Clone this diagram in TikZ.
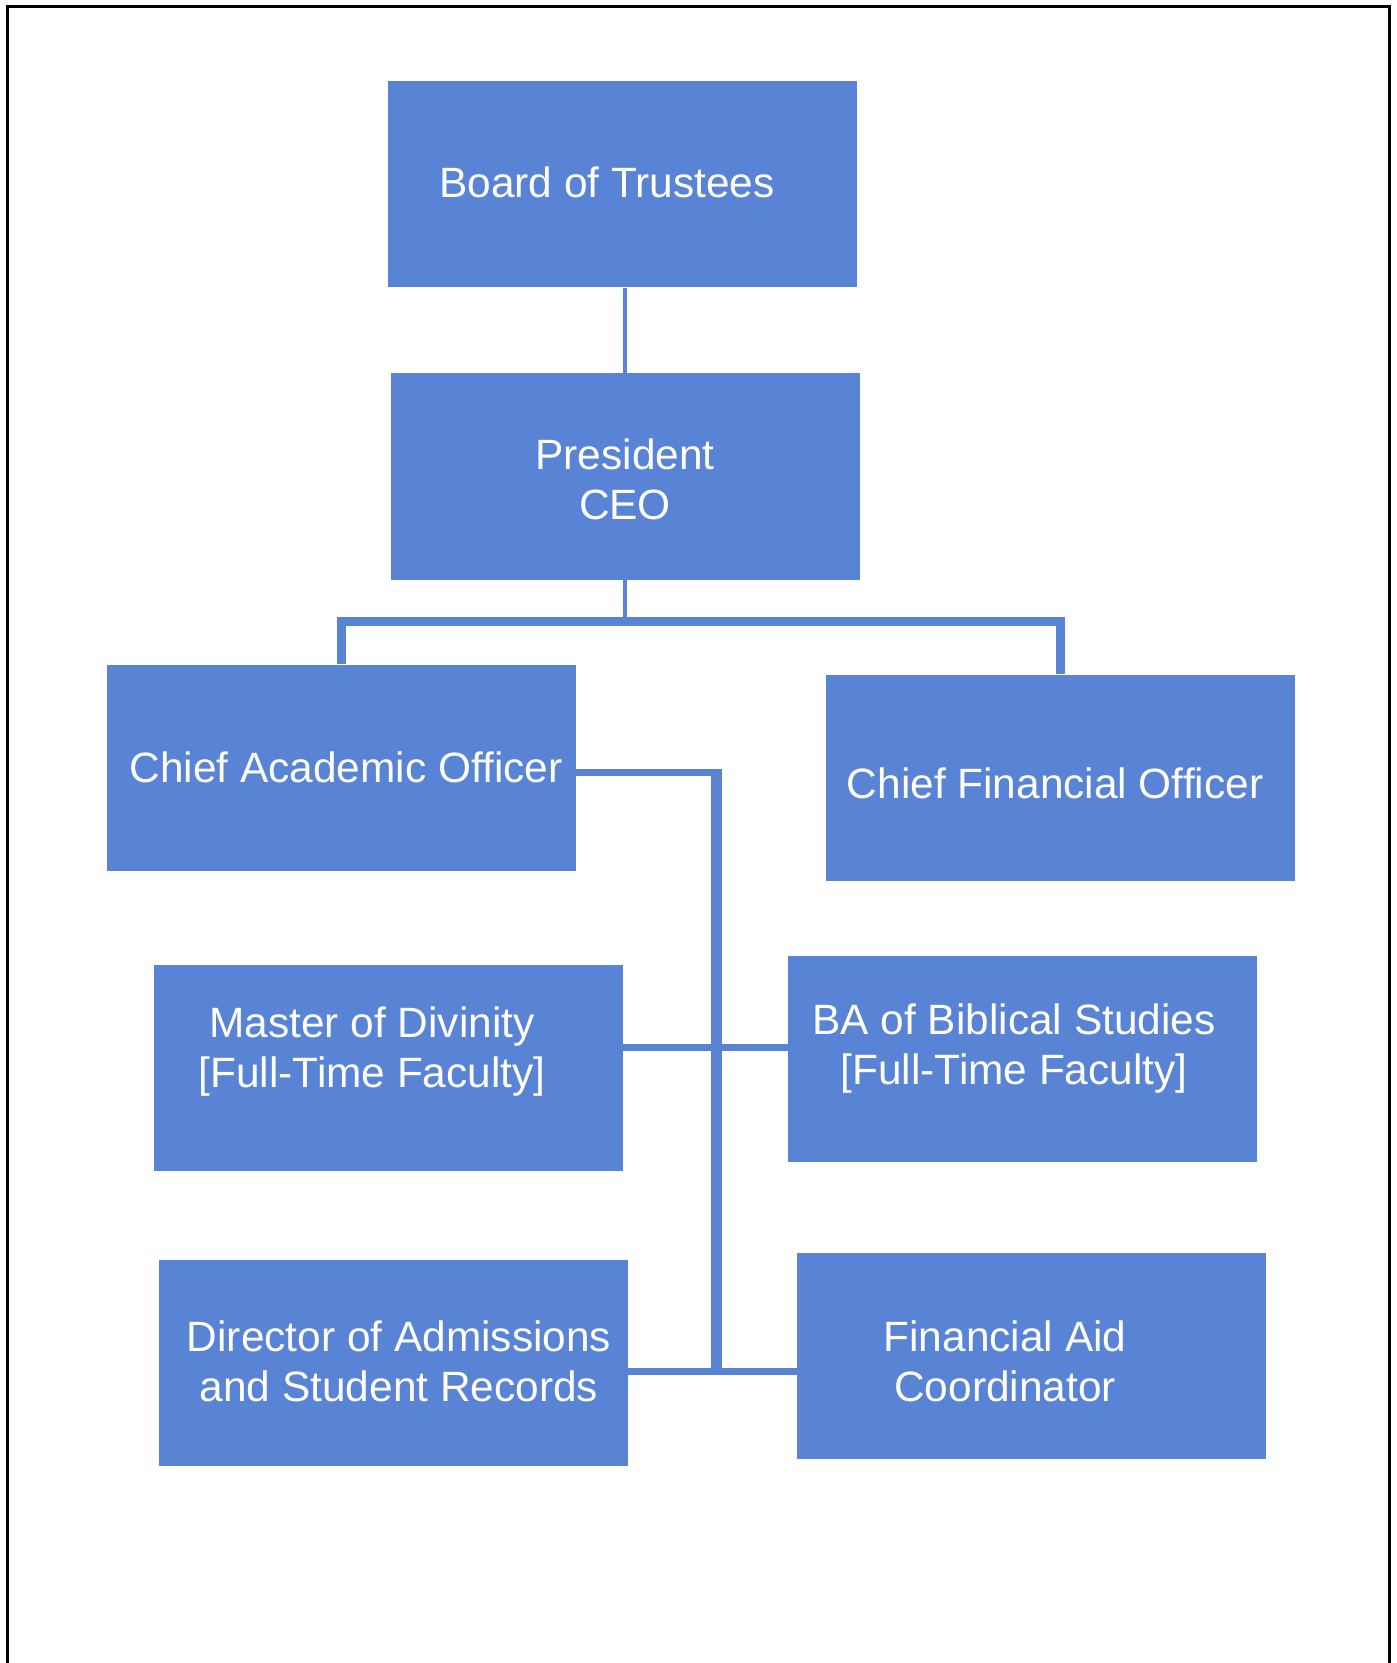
\documentclass[tikz,border=0pt]{standalone}
\usepackage{fontspec}
\setmainfont{Liberation Sans}
\usetikzlibrary{calc}
\definecolor{boxblue}{RGB}{89,131,213}

\begin{document}
\begin{tikzpicture}[x=0.5pt,y=-0.5pt,
    box/.style={fill=boxblue,minimum width=234.5pt,minimum height=103pt,inner sep=0pt},
    txt/.style={text=white,align=center,inner sep=0pt,font=\fontsize{21.2}{25}\selectfont},
    link/.style={draw=boxblue,line width=3.5pt},
    thinlink/.style={draw=boxblue,line width=2pt}]
      \useasboundingbox(0,0)rectangle(1396,1663);
      \draw[line width=1.5pt](7,1680)--(7,7)--(1389,7)--(1389,1680);

      \node[box](bot) at (622.5,184.5){};
      \node[box](pres) at (625.5,476.5){};
      \node[box](cao) at (341.5,767.5){};
      \node[box](cfo) at (1060.5,777.5){};
      \node[box](mdiv) at (388,1067.5){};
      \node[box](ba) at (1022.5,1058.5){};
      \node[box](ds) at (393.5,1363){};
      \node[box](aid) at (1031.5,1356){};

      \node[txt](bot-t) at (607,182.5){Board of Trustees};
      \node[txt](pres-t) at (625,479){President\\CEO};
      \node[txt](cao-t) at (346,767){Chief Academic Officer};
      \node[txt](cfo-t) at (1055,783){Chief Financial Officer};
      \node[txt](mdiv-t) at (372,1052){Master of Divinity\\{}[Full-Time Faculty]};
      \node[txt](ba-t) at (1014,1049){BA of Biblical Studies\\{}[Full-Time Faculty]};
      \node[txt](ds-t) at (399,1361.5){Director of Admissions\\and Student Records};
      \node[txt](aid-t) at (1005,1361.5){Financial Aid\\Coordinator};

      \coordinate(bus) at (625,621);
      \coordinate(trunk) at (716,772);
      \coordinate(mid1) at (716,1047);
      \coordinate(mid2) at (716,1371);

      \draw[thinlink](bot.south-|bus)--(pres.north-|bus);
      \draw[thinlink](pres.south-|bus)--(bus);
      \draw[link,line width=4.5pt](cao.north)--(cao.north|-bus)--(cfo.north|-bus)--(cfo.north);
      \draw[link](cao.east|-trunk)--(trunk);
      \draw[link,line width=5.5pt]([yshift=1.75pt]trunk)--(mid2);
      \draw[link](mdiv.east|-mid1)--(ba.west|-mid1);
      \draw[link](ds.east|-mid2)--(aid.west|-mid2);
\end{tikzpicture}
\end{document}
